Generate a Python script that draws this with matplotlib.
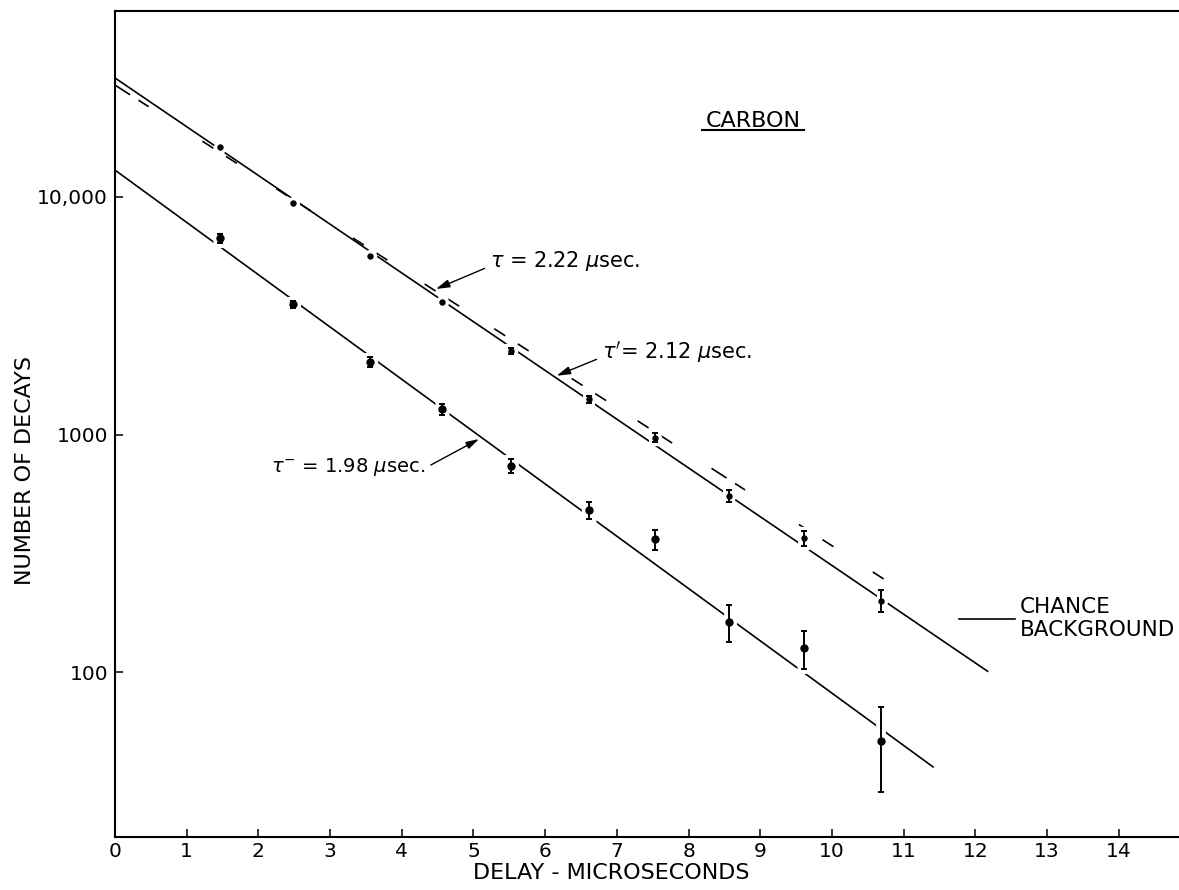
import matplotlib
matplotlib.use('Agg')
import matplotlib.pyplot as plt
import numpy as np
from matplotlib.lines import Line2D
from matplotlib.ticker import NullLocator
from matplotlib.transforms import IdentityTransform

plt.rcParams['lines.scale_dashes'] = False

# delay of each measured point, microseconds
delay = [1.46, 2.49, 3.56, 4.56, 5.53, 6.61, 7.53, 8.56, 9.61, 10.68]

# upper curve (small dots), errors only drawn where > 0
upper_counts = [16130, 9380, 5630, 3600, 2250, 1410, 970, 551, 366, 200]
upper_err = [0, 0, 0, 0, 62, 48, 42, 32, 25, 21]

# lower curve
lower_counts = [6700, 3530, 2020, 1280, 740, 481, 362, 163, 126, 51.4]
lower_err = [280, 130, 90, 70, 48, 41, 36, 29, 23, 20]

# fitted lines, given by their two end points
fit_tau_prime_t = [0.0, 12.17]     # tau' = 2.12 usec (solid)
fit_tau_prime_n = [31600, 101]
fit_tau_t = [0.0, 10.89]           # tau = 2.22 usec (dashed)
fit_tau_n = [29500, 229]
fit_tau_minus_t = [0.0, 11.41]     # tau- = 1.98 usec (solid)
fit_tau_minus_n = [12950, 40]

x_ticks = list(range(0, 15))
y_ticks = [100, 1000, 10000]
y_tick_labels = ['100', '1000', '10,000']

fig = plt.figure(figsize=(11.79, 8.90), dpi=100)
ax = fig.add_axes([0.0975, 0.0596, 0.9025, 0.928])
ax.set_yscale('log')
ax.set_xlim(0, 14.84)
ax.set_ylim(20.3, 60400)

px2pt = 72.0 / fig.dpi

# dashed line: short dashes on both sides of every point, plus two at the start
p0, p1 = ax.transData.transform([(fit_tau_t[0], fit_tau_n[0]),
                                 (fit_tau_t[1], fit_tau_n[1])])
px_per_t = np.hypot(*(p1 - p0)) / (fit_tau_t[1] - fit_tau_t[0])
half_gap, dash = 7.5, 13.0
intervals = [(0, 18), (28, 40)]
for t in delay:
    s = (t - fit_tau_t[0]) * px_per_t
    intervals.append((s - half_gap - dash, s - half_gap))
    intervals.append((s + half_gap, s + half_gap + dash))
seq = []
pos = 0
for a, b in intervals:
    if seq:
        seq.append((a - pos) * px2pt)
    seq.append((b - a) * px2pt)
    pos = b
seq.append(2000)

ax.plot(fit_tau_prime_t, fit_tau_prime_n, color='k', lw=1.2, zorder=1)
ax.plot(fit_tau_t, fit_tau_n, color='k', lw=1.2, ls=(0, seq), zorder=1)
ax.plot(fit_tau_minus_t, fit_tau_minus_n, color='k', lw=1.2, zorder=1)

d = np.array(delay)
up = np.array(upper_counts)
ue = np.array(upper_err)
lo = np.array(lower_counts)
le = np.array(lower_err)
m = ue > 0

# white halos so the lines break around points and bars
ax.plot(d, up, 'o', color='white', ms=8.5, zorder=2)
ax.errorbar(d[m], up[m], yerr=ue[m], fmt='none', ecolor='white',
            elinewidth=6.5, capsize=4.5, capthick=6, zorder=2)
ax.plot(d, lo, 'o', color='white', ms=10, zorder=2)
ax.errorbar(d, lo, yerr=le, fmt='none', ecolor='white',
            elinewidth=7, capsize=5, capthick=6.5, zorder=2)

# the points themselves
ax.errorbar(d[m], up[m], yerr=ue[m], fmt='none', ecolor='k',
            elinewidth=1.4, capsize=2.2, capthick=1.4, zorder=3)
ax.plot(d, up, 'o', color='k', ms=3.6, zorder=4)
ax.errorbar(d, lo, yerr=le, fmt='none', ecolor='k',
            elinewidth=1.4, capsize=2.5, capthick=1.4, zorder=3)
ax.plot(d, lo, 'o', color='k', ms=5, zorder=4)

arrow = dict(arrowstyle='-|>,head_length=0.55,head_width=0.16',
             color='k', lw=1.0, shrinkA=2, shrinkB=0)
ax.annotate(r'$\tau$ = 2.22 $\mu$sec.', xy=(4.477, 4093), xytext=(5.23, 5047),
            ha='left', va='baseline', fontsize=15,
            arrowprops=dict(arrow, relpos=(0, 0.3)))
ax.annotate(r"$\tau'$= 2.12 $\mu$sec.", xy=(6.16, 1767), xytext=(6.79, 2091),
            ha='left', va='baseline', fontsize=15,
            arrowprops=dict(arrow, relpos=(0, 0.3)))
ax.annotate(r'$\tau^{-}$ = 1.98 $\mu$sec.', xy=(5.077, 957), xytext=(4.333, 697.6),
            ha='right', va='baseline', fontsize=14,
            arrowprops=dict(arrow, relpos=(1, 0.45)))

carbon_xy = (8.24, 19740)
carbon = ax.text(*carbon_xy, 'CARBON', fontsize=16, ha='left', va='baseline')

ax.legend(handles=[Line2D([], [], color='k', lw=1.2)],
          labels=['CHANCE\nBACKGROUND'], loc='center left',
          bbox_to_anchor=(0.7932, 0.2646), frameon=False, fontsize=15.5,
          handlelength=2.6, handletextpad=0.23, borderpad=0, borderaxespad=0)

ax.set_xticks(x_ticks)
ax.set_xticklabels([str(v) for v in x_ticks])
ax.set_yticks(y_ticks)
ax.set_yticklabels(y_tick_labels)
ax.yaxis.set_minor_locator(NullLocator())
ax.tick_params(direction='in', length=6, width=1.1, labelsize=14.5, pad=5)
ax.tick_params(axis='x', pad=3.5)

ax.set_xlabel('DELAY - MICROSECONDS', fontsize=16)
ax.xaxis.set_label_coords(0.4666, -0.0315)
ax.set_ylabel('NUMBER OF DECAYS', fontsize=16)
ax.yaxis.set_label_coords(-0.0752, 0.4433)

ax.spines['right'].set_visible(False)
for side in ['left', 'bottom', 'top']:
    ax.spines[side].set_linewidth(1.5)

# underline under CARBON
fig.canvas.draw()
bb = carbon.get_window_extent()
base_y = ax.transData.transform(carbon_xy)[1]
fig.add_artist(Line2D([bb.x0 - 4, bb.x1 + 3], [base_y - 3.5, base_y - 3.5],
                      color='k', lw=1.5, transform=IdentityTransform()))

fig.savefig('out.png', dpi=100)
